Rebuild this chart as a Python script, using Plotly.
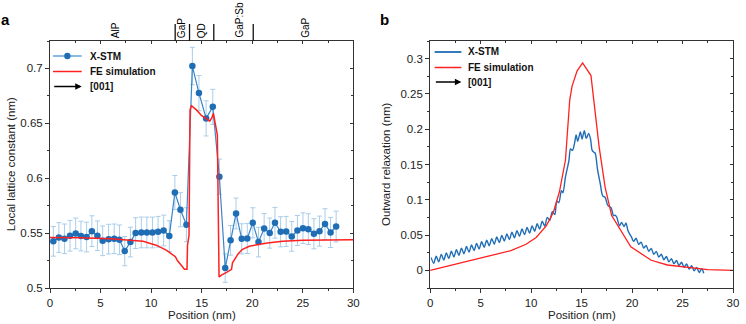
import plotly.graph_objects as go

# ---------------- Panel a data ----------------
stm_x = [0.33, 0.88, 1.43, 1.98, 2.54, 3.06, 3.62, 4.14, 4.69, 5.21, 5.80, 6.35, 6.87, 7.39, 7.95,
         8.47, 9.03, 9.58, 10.13, 10.69, 11.24, 11.80, 12.35, 12.90, 13.49, 14.08, 14.73, 15.44,
         16.10, 16.75, 17.33, 17.86, 18.40, 18.96, 19.51, 20.06, 20.62, 21.18, 21.73, 22.25,
         22.81, 23.36, 23.91, 24.47, 25.02, 25.55, 26.10, 26.65, 27.20, 27.75, 28.30]
stm_y = [0.5425, 0.546, 0.5448, 0.5476, 0.5497, 0.5473, 0.5464, 0.5518, 0.5476, 0.543, 0.5445,
         0.5448, 0.5439, 0.5336, 0.5418, 0.550, 0.5506, 0.5506, 0.5506, 0.5512, 0.5524, 0.5473,
         0.587, 0.5713, 0.5576, 0.7022, 0.6776, 0.6545, 0.665, 0.6014, 0.5182, 0.5434, 0.5679,
         0.5448, 0.5451, 0.5594, 0.5418, 0.5542, 0.550, 0.5594, 0.5512, 0.5515, 0.547, 0.5524,
         0.5545, 0.5536, 0.5494, 0.5518, 0.5582, 0.5506, 0.556]
stm_err = [0.0135, 0.0135, 0.0135, 0.014, 0.014, 0.0135, 0.0135, 0.014, 0.0135, 0.0135, 0.0135,
           0.0135, 0.0135, 0.0133, 0.0135, 0.014, 0.014, 0.014, 0.014, 0.014, 0.014, 0.014,
           0.0155, 0.0155, 0.0155, 0.017, 0.016, 0.016, 0.016, 0.016, 0.013, 0.0135, 0.014,
           0.0137, 0.0137, 0.0137, 0.0135, 0.0137, 0.0137, 0.014, 0.0137, 0.0137, 0.0135, 0.0137,
           0.014, 0.014, 0.0137, 0.0137, 0.014, 0.0137, 0.014]

fea_x = [0, 3, 6, 8, 9.2, 10.5, 11.5, 12.4, 12.6, 13.3, 13.55, 13.6, 13.75, 13.85, 14.0, 14.5,
         15.0, 15.5, 15.8, 16.0, 16.16, 16.3, 16.55, 16.72, 17.0, 17.5, 17.95, 18.05, 18.6, 19.0,
         19.7, 20.5, 21.5, 23, 25, 30]
fea_y = [0.546, 0.5458, 0.5448, 0.5435, 0.5425, 0.539, 0.5345, 0.5285, 0.525, 0.517, 0.517,
         0.539, 0.548, 0.6625, 0.666, 0.662, 0.657, 0.654, 0.652, 0.655, 0.659, 0.652, 0.6395,
         0.510, 0.512, 0.5145, 0.517, 0.523, 0.531, 0.535, 0.538, 0.5395, 0.541, 0.5425, 0.5435,
         0.544]

region_labels = ["AlP", "GaP", "QD", "GaP:Sb", "GaP"]
region_label_x = [6.45, 12.97, 15.0, 18.7, 25.2]
region_bounds = [12.38, 13.8, 16.2, 20.1]

# ---------------- Panel b data ----------------
rel_stm_x = [0.10, 0.35, 0.60, 0.85, 1.10, 1.35, 1.60, 1.85, 2.10, 2.35, 2.60, 2.85, 3.10, 3.35,
             3.60, 3.85, 4.10, 4.35, 4.60, 4.85, 5.10, 5.35, 5.60, 5.85, 6.10, 6.35, 6.60, 6.85,
             7.10, 7.35, 7.60, 7.85, 8.10, 8.35, 8.60, 8.85, 9.10, 9.35, 9.60, 9.85, 10.10, 10.35,
             10.60, 10.85, 11.10, 11.35, 11.60, 11.85, 12.10, 12.35, 12.55, 12.75, 13.00, 13.15,
             13.40, 13.75, 13.90, 14.10, 14.30, 14.46, 14.62, 14.88, 15.05, 15.27, 15.47, 15.70,
             15.90, 16.05, 16.25, 16.35, 16.59, 16.85, 17.08, 17.34, 17.60, 17.93, 18.16, 18.35,
             18.49, 18.75, 18.97, 19.20, 19.40, 19.60, 19.95, 20.15, 20.40, 20.65, 20.90, 21.15,
             21.40, 21.65, 21.90, 22.15, 22.40, 22.65, 22.90, 23.15, 23.40, 23.65, 23.90, 24.15,
             24.40, 24.65, 24.90, 25.15, 25.40, 25.65, 25.90, 26.15, 26.40, 26.65, 26.90, 27.10]
rel_stm_y = [0.018, 0.010, 0.020, 0.012, 0.0225, 0.0146, 0.0247, 0.0168, 0.027, 0.019, 0.0292,
             0.0213, 0.0315, 0.0236, 0.0337, 0.0258, 0.036, 0.0281, 0.0382, 0.0303, 0.0405,
             0.0326, 0.0427, 0.0348, 0.045, 0.0371, 0.0472, 0.0393, 0.0495, 0.0416, 0.0517,
             0.0438, 0.054, 0.0461, 0.0562, 0.0483, 0.0585, 0.0506, 0.0607, 0.0528, 0.063,
             0.0555, 0.066, 0.0585, 0.0695, 0.0625, 0.075, 0.071, 0.083, 0.079, 0.098, 0.096,
             0.113, 0.110, 0.132, 0.156, 0.172, 0.170, 0.180, 0.192, 0.183, 0.196, 0.186, 0.198,
             0.187, 0.194, 0.185, 0.170, 0.167, 0.166, 0.142, 0.123, 0.106, 0.103, 0.092, 0.0886,
             0.0776, 0.078, 0.0752, 0.0633, 0.068, 0.062, 0.067, 0.056, 0.047, 0.041, 0.0455,
             0.037, 0.040, 0.0317, 0.0353, 0.027, 0.031, 0.0228, 0.0268, 0.0188, 0.0228, 0.015,
             0.0196, 0.0121, 0.0166, 0.0092, 0.014, 0.0067, 0.0115, 0.0042, 0.009, 0.0017,
             0.0065, -0.0008, 0.004, -0.003, 0.0022, -0.004]

rel_fe_x = [0, 2.5, 5, 8, 9.5, 10.5, 11.5, 12.2, 12.8, 13.2, 13.4, 13.83, 14.06, 14.55, 15.1,
            15.93, 16.2, 16.5, 16.74, 17.33, 17.98, 19.88, 21.9, 23.5, 25.5, 27.5, 30]
rel_fe_y = [0.0, 0.0085, 0.017, 0.028, 0.037, 0.0466, 0.063, 0.082, 0.111, 0.142, 0.156, 0.242,
            0.261, 0.2824, 0.294, 0.276, 0.242, 0.213, 0.175, 0.118, 0.0776, 0.0333, 0.0143,
            0.0076, 0.004, 0.001, 0.0]

BLUE = "#1f6db5"
BLUE_LINE = "#3a85c8"
ERR = "#a9cdea"
RED = "#ff2020"
FONT = "Liberation Sans, Arial, sans-serif"

fig = go.Figure()

# panel a
fig.add_trace(go.Scatter(
    x=stm_x, y=stm_y, mode="lines+markers", xaxis="x", yaxis="y",
    line=dict(color=BLUE_LINE, width=1.2),
    marker=dict(color=BLUE, size=6.5),
    error_y=dict(type="data", array=stm_err, color=ERR, thickness=1, width=2.5),
    showlegend=False))
fig.add_trace(go.Scatter(
    x=fea_x, y=fea_y, mode="lines", xaxis="x", yaxis="y",
    line=dict(color=RED, width=1.5), showlegend=False))

# panel b
fig.add_trace(go.Scatter(
    x=rel_stm_x, y=rel_stm_y, mode="lines", xaxis="x2", yaxis="y2",
    line=dict(color=BLUE, width=1.4, shape="spline", smoothing=0.8), showlegend=False))
fig.add_trace(go.Scatter(
    x=rel_fe_x, y=rel_fe_y, mode="lines", xaxis="x2", yaxis="y2",
    line=dict(color=RED, width=1.3), showlegend=False))

# dummy traces for inside mirror ticks
fig.add_trace(go.Scatter(x=[None], y=[None], xaxis="x3", yaxis="y3", showlegend=False))
fig.add_trace(go.Scatter(x=[None], y=[None], xaxis="x4", yaxis="y4", showlegend=False))

tickfont = dict(family=FONT, size=11.5, color="#222")
titlefont = dict(family=FONT, size=11.5, color="#222")

def xax(domain, anchor):
    return dict(domain=domain, anchor=anchor, range=[0, 30], dtick=5, tick0=0,
                showline=True, linecolor="#333", linewidth=1, mirror=True,
                ticks="outside", ticklen=4, tickcolor="#333", tickfont=tickfont,
                minor=dict(dtick=2.5, ticks="outside", ticklen=2, tickcolor="#333"),
                showgrid=False, zeroline=False)

def yax(rng, dtick, minor, anchor):
    return dict(range=rng, anchor=anchor, dtick=dtick, tick0=0,
                showline=True, linecolor="#333", linewidth=1, mirror=True,
                ticks="outside", ticklen=4, tickcolor="#333", tickfont=tickfont,
                minor=dict(dtick=minor, ticks="outside", ticklen=2, tickcolor="#333"),
                showgrid=False, zeroline=False)

def xin(over, anchor):
    return dict(overlaying=over, anchor=anchor, side="top", range=[0, 30], dtick=5, tick0=0,
                ticks="inside", ticklen=3, tickcolor="#333", showticklabels=False,
                minor=dict(dtick=2.5, ticks="inside", ticklen=2, tickcolor="#333"),
                showline=False, showgrid=False, zeroline=False)

def yin(over, anchor, rng, dtick, minor):
    return dict(overlaying=over, anchor=anchor, side="right", range=rng, dtick=dtick, tick0=0,
                ticks="inside", ticklen=3, tickcolor="#333", showticklabels=False,
                minor=dict(dtick=minor, ticks="inside", ticklen=2, tickcolor="#333"),
                showline=False, showgrid=False, zeroline=False)

L, R, T, B = 50, 7, 41, 36
W, H = 746, 324
pw = W - L - R
ph = H - T - B

def px(xp):
    return (xp - L) / pw

def py(yp):
    return (H - B - yp) / ph

dom_a = [0, px(356)]
dom_b = [px(433.5), 1]

fig.update_layout(
    width=W, height=H, margin=dict(l=L, r=R, t=T, b=B),
    paper_bgcolor="white", plot_bgcolor="white",
    font=dict(family=FONT),
    xaxis=xax(dom_a, "y"),
    yaxis=yax([0.5, 0.725], 0.05, 0.025, "x"),
    xaxis2=xax(dom_b, "y2"),
    yaxis2=yax([-0.025, 0.325], 0.05, 0.025, "x2"),
    xaxis3=xin("x", "y"),
    yaxis3=yin("y", "x", [0.5, 0.725], 0.05, 0.025),
    xaxis4=xin("x2", "y2"),
    yaxis4=yin("y2", "x2", [-0.025, 0.325], 0.05, 0.025),
)

shapes = []
annotations = []

# axis titles
annotations.append(dict(x=px((50 + 356) / 2), y=py(315), xref="paper", yref="paper",
                        text="Position (nm)", showarrow=False, xanchor="center",
                        yanchor="middle", font=titlefont))
annotations.append(dict(x=px((433.5 + 739) / 2), y=py(315), xref="paper", yref="paper",
                        text="Position (nm)", showarrow=False, xanchor="center",
                        yanchor="middle", font=titlefont))
annotations.append(dict(x=px(11), y=py(164), xref="paper", yref="paper",
                        text="Local lattice constant (nm)", textangle=-90, showarrow=False,
                        xanchor="center", yanchor="middle", font=titlefont))
annotations.append(dict(x=px(389), y=py(164), xref="paper", yref="paper",
                        text="Outward relaxation (nm)", textangle=-90, showarrow=False,
                        xanchor="center", yanchor="middle", font=titlefont))

# region labels and separators above panel a
for lab, xv in zip(region_labels, region_label_x):
    annotations.append(dict(x=xv, y=1, xref="x", yref="paper", text=lab, textangle=-90,
                            showarrow=False, yanchor="bottom", xanchor="center", yshift=2,
                            borderpad=0, font=dict(family=FONT, size=10, color="#000")))
for xv in region_bounds:
    shapes.append(dict(type="line", xref="x", yref="paper", x0=xv, x1=xv, y0=1,
                       y1=py(24), line=dict(color="#111", width=1.3)))

# panel labels
annotations.append(dict(x=px(-1), y=py(20), xref="paper", yref="paper", text="<b>a</b>",
                        showarrow=False, xanchor="left", yanchor="middle",
                        font=dict(family=FONT, size=15, color="#000")))
annotations.append(dict(x=px(381), y=py(20), xref="paper", yref="paper", text="<b>b</b>",
                        showarrow=False, xanchor="left", yanchor="middle",
                        font=dict(family=FONT, size=15, color="#000")))

legfont = dict(family=FONT, size=10, color="#111")

def legend(x0p, x1p, ys, text_x, with_marker, line1color):
    shapes.append(dict(type="line", xref="paper", yref="paper", x0=px(x0p), x1=px(x1p),
                       y0=py(ys[0]), y1=py(ys[0]), line=dict(color=line1color, width=1.8)))
    if with_marker:
        cx = (x0p + x1p) / 2
        shapes.append(dict(type="circle", xref="paper", yref="paper",
                           x0=px(cx - 3.2), x1=px(cx + 3.2), y0=py(ys[0] + 3.2), y1=py(ys[0] - 3.2),
                           fillcolor=BLUE, line=dict(color=BLUE, width=0)))
    shapes.append(dict(type="line", xref="paper", yref="paper", x0=px(x0p), x1=px(x1p),
                       y0=py(ys[1]), y1=py(ys[1]), line=dict(color=RED, width=1.5)))
    annotations.append(dict(x=px(x1p), y=py(ys[2]), ax=-(x1p - x0p), ay=0,
                            xref="paper", yref="paper", axref="pixel", ayref="pixel",
                            text="", showarrow=True, arrowhead=2, arrowsize=1,
                            arrowwidth=1.3, arrowcolor="#000"))
    for t, yy in zip(["<b>X-STM</b>", "<b>FE simulation</b>", "<b>[001]</b>"], ys):
        annotations.append(dict(x=px(text_x), y=py(yy), xref="paper", yref="paper", text=t,
                                showarrow=False, xanchor="left", yanchor="middle", font=legfont))

legend(53, 82, [56, 71.5, 86.5], 88, True, "#7fb2de")
legend(438, 465, [52, 67.5, 82], 470, False, BLUE)

fig.update_layout(shapes=shapes, annotations=annotations)

fig.write_html("out.html", config={"displayModeBar": False},
               post_script="document.body.style.margin='0px';")
